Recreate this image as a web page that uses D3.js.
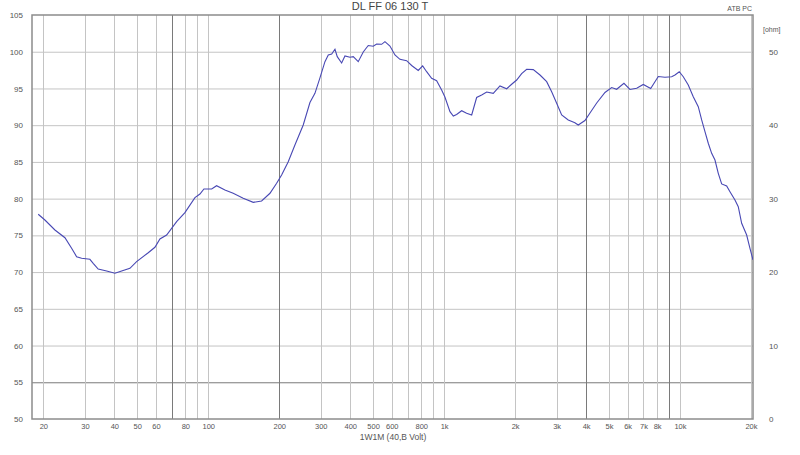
<!DOCTYPE html>
<html><head><meta charset="utf-8">
<script src="https://cdn.jsdelivr.net/npm/d3@7"></script>
<style>
body{margin:0;background:#fff;}
svg{display:block;font-family:"Liberation Sans",Arial,sans-serif;}
</style></head>
<body><svg id="c" width="800" height="455"></svg>
<script>
const title = "DL FF 06 130 T";
const corner = "ATB PC";
const xAxisTitle = "1W1M  (40,B Volt)";
const rightUnit = "[ohm]";

const freq = [19.02,20.30,22.39,24.69,26.35,27.67,29.06,31.50,32.53,34.16,37.09,40.22,42.94,46.56,49.70,55.67,59.43,62.40,66.62,73.45,79.65,87.83,92.22,95.89,103.4,108.5,117.7,127.6,140.7,155.2,168.4,182.7,195.0,204.7,218.4,233.1,252.8,269.9,283.4,297.6,312.5,322.8,333.7,344.6,352.4,367.8,379.9,398.9,412.0,432.5,454.2,476.9,500.7,517.6,543.5,561.3,589.4,618.9,649.8,693.8,728.5,777.0,811.1,843.3,885.5,929.8,976.3,1008,1059,1094,1130,1187,1246,1309,1374,1443,1515,1616,1725,1842,1934,2031,2132,2239,2388,2550,2722,2858,3001,3151,3360,3586,3704,3955,4154,4436,4809,5132,5390,5788,6137,6554,6990,7514,7834,8091,8639,9222,9524,9931,10328,10844,11386,11956,12359,12764,13183,13627,14074,14535,15025,15776,16293,17107,17667,18263,19176,19806,20397];
const spl = [77.87,77.09,75.73,74.68,73.24,72.10,71.88,71.74,71.20,70.42,70.15,69.84,70.15,70.52,71.42,72.64,73.38,74.51,75.05,76.86,78.09,80.13,80.63,81.31,81.31,81.76,81.18,80.73,80.05,79.50,79.68,80.73,82.09,83.22,85.03,87.30,90.03,93.09,94.34,96.43,98.65,99.56,99.69,100.33,99.33,98.47,99.42,99.24,99.33,98.65,99.97,100.85,100.74,101.06,101.01,101.37,100.78,99.56,98.97,98.78,98.13,97.45,98.06,97.28,96.39,96.06,94.79,93.84,91.84,91.25,91.46,91.97,91.62,91.39,93.77,94.11,94.52,94.34,95.34,94.96,95.57,96.15,97.01,97.61,97.56,96.83,95.92,94.56,92.98,91.39,90.71,90.34,90.03,90.64,91.66,93.02,94.45,95.13,94.89,95.70,94.86,95.02,95.54,95.00,95.92,96.63,96.52,96.60,96.83,97.28,96.60,95.47,93.88,92.52,90.71,89.12,87.54,86.17,85.26,83.45,82.00,81.72,80.95,79.82,78.90,76.64,75.05,73.24,71.65];

const dbTicks = [50,55,60,65,70,75,80,85,90,95,100,105];
const ohmTicks = [0,10,20,30,40,50];
const gridFreqs = [20,30,40,50,60,70,80,90,100,200,300,400,500,600,700,800,900,1000,2000,3000,4000,5000,6000,7000,8000,9000,10000,20000];
const darkFreqs = [70,200,4000,9000];
const darkLevels = [55];
const xTickVals = [20,30,40,50,60,80,100,200,300,400,500,600,800,1000,2000,3000,4000,5000,6000,7000,8000,10000,20000];
const xTickText = ["20","30","40","50","60","80","100","200","300","400","500","600","800","1k","2k","3k","4k","5k","6k","7k","8k","10k","20k"];

const L=32, R=753, T=15, B=419;
const svg = d3.select("#c");
const x = d3.scaleLog().domain([17.9,20400]).range([L,R]);
const y = d3.scaleLinear().domain([50,105]).range([B,T]);
const yOhm = d3.scaleLinear().domain([0,55]).range([B,T]);

// horizontal grid
svg.append("g").selectAll("line").data(dbTicks.slice(1,-1)).join("line")
  .attr("x1",L).attr("x2",R).attr("y1",d=>y(d)+0.5).attr("y2",d=>y(d)+0.5)
  .attr("stroke",d=>darkLevels.includes(d)?"#7a7a7a":"#c4c4c4").attr("stroke-width",1);
// vertical grid
svg.append("g").selectAll("line").data(gridFreqs).join("line")
  .attr("x1",d=>Math.round(x(d))+0.5).attr("x2",d=>Math.round(x(d))+0.5).attr("y1",T).attr("y2",B)
  .attr("stroke",d=>darkFreqs.includes(d)?"#7a7a7a":"#c4c4c4").attr("stroke-width",1);
// frame
svg.append("rect").attr("x",L).attr("y",T).attr("width",R-L).attr("height",B-T)
  .attr("fill","none").attr("stroke","#8c8c8c").attr("stroke-width",1.5);

// curve
svg.append("defs").append("clipPath").attr("id","clip").append("rect")
  .attr("x",L).attr("y",T).attr("width",R-L).attr("height",B-T);
const line = d3.line().x((d,i)=>x(freq[i])).y(d=>y(d)).curve(d3.curveLinear);
svg.append("path").datum(spl).attr("d",line).attr("clip-path","url(#clip)")
  .attr("fill","none").attr("stroke","#4848b4").attr("stroke-width",1.1);

// axes (labels only)
const ax = svg.append("g").attr("transform",`translate(0,${B+2})`)
  .call(d3.axisBottom(x).tickValues(xTickVals).tickFormat((d,i)=>xTickText[i]).tickSize(0));
ax.select(".domain").remove();
ax.selectAll("text").attr("font-size",7.5).attr("fill","#555").attr("font-family","Liberation Sans, Arial, sans-serif");

const ay = svg.append("g").attr("transform",`translate(${L-6},0)`)
  .call(d3.axisLeft(y).tickValues(dbTicks).tickSize(0));
ay.select(".domain").remove();
ay.selectAll("text").attr("font-size",8).attr("fill","#555").attr("font-family","Liberation Sans, Arial, sans-serif");

const ar = svg.append("g").attr("transform",`translate(${R+13},0)`)
  .call(d3.axisRight(yOhm).tickValues(ohmTicks).tickSize(0));
ar.select(".domain").remove();
ar.selectAll("text").attr("font-size",8).attr("fill","#555").attr("font-family","Liberation Sans, Arial, sans-serif");

svg.append("text").attr("x",390).attr("y",10).attr("text-anchor","middle")
  .attr("font-size",11).attr("fill","#444").text(title);
svg.append("text").attr("x",752).attr("y",11).attr("text-anchor","end")
  .attr("font-size",7).attr("fill","#555").text(corner);
svg.append("text").attr("x",763).attr("y",32)
  .attr("font-size",7).attr("fill","#555").text(rightUnit);
svg.append("text").attr("x",393).attr("y",440).attr("text-anchor","middle")
  .attr("font-size",8.5).attr("fill","#555").text(xAxisTitle);
</script></body></html>
